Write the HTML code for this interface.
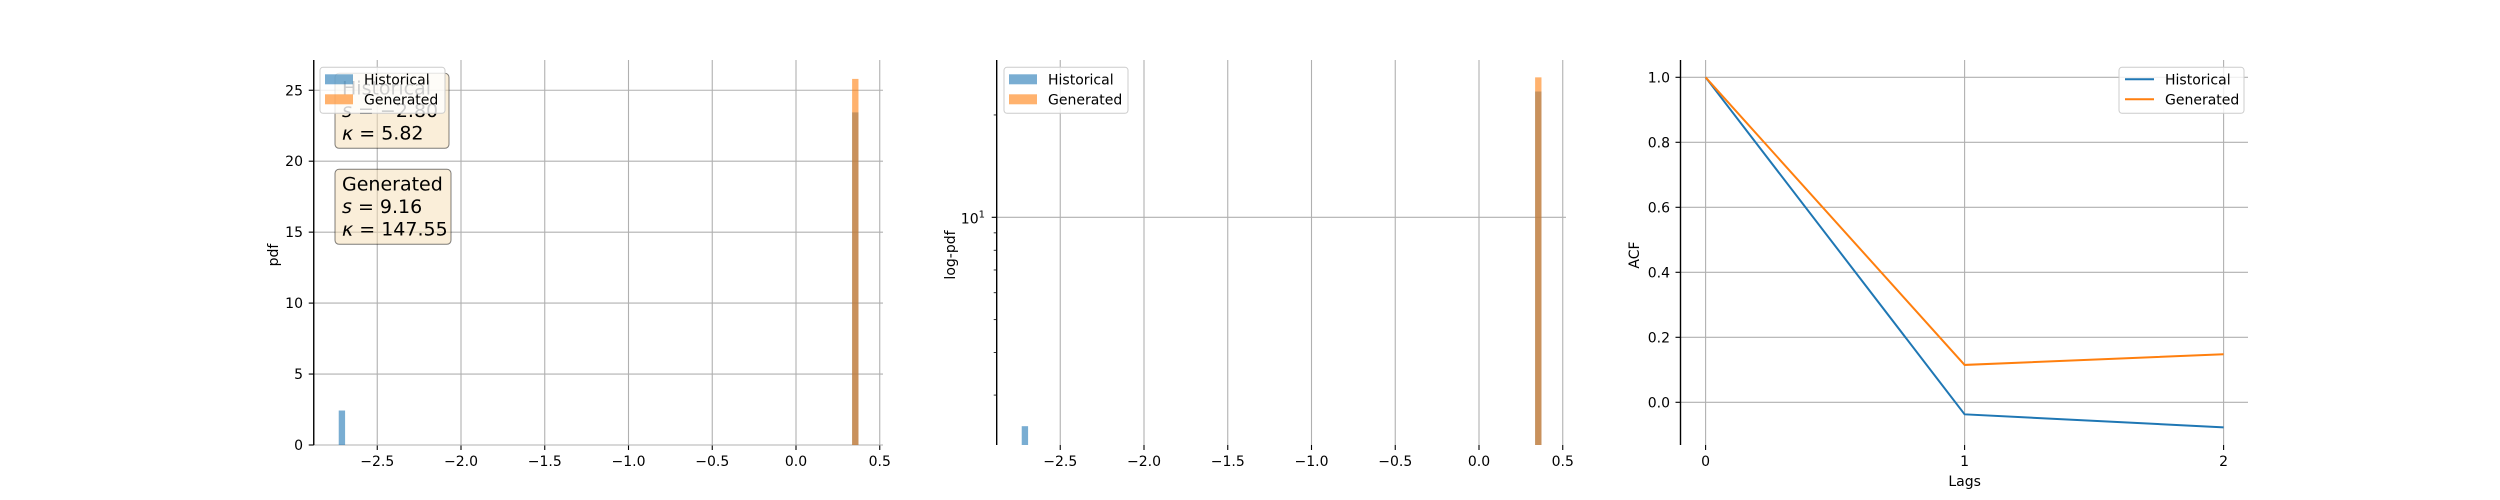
<!DOCTYPE html>
<html><head><meta charset="utf-8"><style>
html,body{margin:0;padding:0;background:#fff;}
svg{display:block;font-family:"DejaVu Sans","Liberation Sans",sans-serif;}
</style></head><body>
<svg id="fig" width="2500" height="500" viewBox="0 0 2500 500" xmlns="http://www.w3.org/2000/svg">
<g id="p1"></g>
<g id="p2"></g>
<g id="p3"></g>
</svg>
<script>
// ---- data ----
const histBinLeft = [-2.73, 0.335];
const histPdf = [2.43, 23.44];
const genBinLeft = [0.335];
const genPdf = [25.8];
const binWidth = 0.038;
const xTicks = [-2.5, -2.0, -1.5, -1.0, -0.5, 0.0, 0.5];
const xTickLabels = ["\u22122.5","\u22122.0","\u22121.5","\u22121.0","\u22120.5","0.0","0.5"];
const pdfTicks = [0, 5, 10, 15, 20, 25];
const logMinorTicks = [3,4,5,6,7,8,9,20];
const lags = [0, 1, 2];
const acfHist = [1.0, -0.037, -0.077];
const acfGen = [1.0, 0.115, 0.148];
const acfTicks = [0.0, 0.2, 0.4, 0.6, 0.8, 1.0];
const histStats = [["Historical"], ["s", " = \u22122.80"], ["\u03ba", " = 5.82"]];
const genStats = [["Generated"], ["s", " = 9.16"], ["\u03ba", " = 147.55"]];

const NS = "http://www.w3.org/2000/svg";
const BLUE = "#1f77b4", ORANGE = "#ff7f0e", GRID = "#b0b0b0";
function el(tag, attrs, parent, text) {
  const e = document.createElementNS(NS, tag);
  for (const k in attrs) e.setAttribute(k, attrs[k]);
  if (text !== undefined) e.textContent = text;
  parent.appendChild(e);
  return e;
}
const TOP = 60, BOT = 445;

function xAxis(g, sx, ticks, labels, gridTop) {
  ticks.forEach((t, i) => {
    const x = sx(t);
    const gl = el("line", {x1:x, x2:x, y1:gridTop, y2:BOT, stroke:GRID, "stroke-width":1.1}, g);
    
    
    const tk = el("line", {x1:x, x2:x, y1:BOT, y2:BOT+5, stroke:"#000", "stroke-width":1.1}, g);
    
    
    const tl = el("text", {x:x, y:466, "font-size":14, "text-anchor":"middle", fill:"#000"}, g, labels[i]);
    
    
  });
}
function yGrid(g, y, x0, x1, label, lx) {
  const gl = el("line", {x1:x0, x2:x1, y1:y, y2:y, stroke:GRID, "stroke-width":1.1}, g);
  
  
  const tk = el("line", {x1:x0-5, x2:x0, y1:y, y2:y, stroke:"#000", "stroke-width":1.1}, g);
  
  
  if (label !== null) {
    const tl = el("text", {x:lx, y:y+5, "font-size":14, "text-anchor":"end", fill:"#000"}, g, label);
    
    
  }
}
function spine(g, x) {
  const s = el("line", {x1:x, x2:x, y1:TOP, y2:BOT, stroke:"#000", "stroke-width":1.4}, g);
  
  
}
function yTitle(g, x, text) {
  const t = el("text", {x:x, y:255, "font-size":14, "text-anchor":"middle", transform:"rotate(-90 "+x+" 255)", fill:"#000"}, g, text);
  
  
}
function bars(g, lefts, vals, sx, sy, color, name) {
  lefts.forEach((l, i) => {
    const x0 = sx(l), x1 = sx(l + binWidth), y = sy(vals[i]);
    const r = el("rect", {x:x0, y:y, width:x1-x0, height:BOT-y, fill:color, "fill-opacity":0.6}, g);
    
    
  });
}
function legend(g, x, y, w, kind) {
  const lg = el("g", {}, g);
  
  
  el("rect", {x:x, y:y, width:w, height:46, rx:3, fill:"#fff", "fill-opacity":0.8, stroke:"#ccc", "stroke-width":1}, lg);
  [["Historical", BLUE, 12], ["Generated", ORANGE, 32]].forEach(([name, c, dy]) => {
    const ent = el("g", {}, lg);
    
    
    if (kind === "patch") el("rect", {x:x+5, y:y+dy-5, width:28, height:10, fill:c, "fill-opacity":0.6}, ent);
    else el("line", {x1:x+6, x2:x+35, y1:y+dy, y2:y+dy, stroke:c, "stroke-width":2}, ent);
    el("text", {x:x+(kind==="patch"?44:46), y:y+dy+5, "font-size":14, fill:"#000"}, ent, name);
  });
}
function statBox(g, x, y, w, lines, name) {
  const b = el("g", {}, g);
  
  
  el("rect", {x:x, y:y, width:w, height:75, rx:4, fill:"#f5deb3", "fill-opacity":0.5, stroke:"#000", "stroke-opacity":0.5, "stroke-width":1}, b);
  lines.forEach((parts, i) => {
    const t = el("text", {x:x+7, y:y+21+i*22.5, "font-size":19, fill:"#000"}, b);
    if (parts.length === 1) t.textContent = parts[0];
    else {
      el("tspan", {"font-style":"italic"}, t, parts[0]);
      el("tspan", {}, t, parts[1]);
    }
  });
}

// ---- panel 1 (pdf) ----
(function(){
  const g = document.getElementById("p1");
  const X0 = 313.75, X1 = 883;
  const sx = v => 796 + v * 167.5;
  const sy = v => 445 - v * 14.19;
  xAxis(g, sx, xTicks, xTickLabels, TOP);
  pdfTicks.forEach(t => yGrid(g, sy(t), X0, X1, String(t), 303));
  bars(g, histBinLeft, histPdf, sx, sy, BLUE, "historical-bar");
  bars(g, genBinLeft, genPdf, sx, sy, ORANGE, "generated-bar");
  spine(g, X0);
  yTitle(g, 278, "pdf");
  statBox(g, 335, 73.3, 114, histStats, "historical-stats-box");
  statBox(g, 335, 169.3, 116, genStats, "generated-stats-box");
  legend(g, 320, 67.3, 125, "patch");
})();

// ---- panel 2 (log-pdf) ----
(function(){
  const g = document.getElementById("p2");
  const X0 = 996.7, X1 = 1566;
  const sx = v => 1479 + v * 167.5;
  const sy = v => 217.3 - (Math.log10(v) - 1) * 340;
  xAxis(g, sx, xTicks, xTickLabels, TOP);
  yGrid(g, sy(10), X0, X1, null, 0);
  const tl = el("text", {x:985, y:sy(10)+6, "font-size":14, "text-anchor":"end", fill:"#000"}, g);
  
  
  tl.innerHTML = '10<tspan dy="-6" font-size="10">1</tspan>';
  logMinorTicks.forEach(t => {
    const m = el("line", {x1:X0-3, x2:X0, y1:sy(t), y2:sy(t), stroke:"#000", "stroke-width":0.8}, g);
    
    
  });
  bars(g, histBinLeft, histPdf, sx, sy, BLUE, "historical-bar");
  bars(g, genBinLeft, genPdf, sx, sy, ORANGE, "generated-bar");
  spine(g, X0);
  yTitle(g, 955, "log-pdf");
  legend(g, 1004, 67.3, 124, "patch");
})();

// ---- panel 3 (ACF) ----
(function(){
  const g = document.getElementById("p3");
  const X0 = 1680.5, X1 = 2248;
  const sx = v => 1705.6 + v * 259;
  const sy = v => 402.3 - v * 325;
  xAxis(g, sx, lags, lags.map(String), TOP);
  acfTicks.forEach(t => yGrid(g, sy(t), X0, X1, t.toFixed(1), 1670));
  [[acfHist, BLUE, "historical-acf-line"], [acfGen, ORANGE, "generated-acf-line"]].forEach(([vals, c, name]) => {
    const p = el("polyline", {points: vals.map((v, i) => sx(lags[i]) + "," + sy(v)).join(" "), fill:"none", stroke:c, "stroke-width":2}, g);
    
    
  });
  spine(g, X0);
  yTitle(g, 1639, "ACF");
  const xt = el("text", {x:sx(1), y:486, "font-size":14, "text-anchor":"middle", fill:"#000"}, g, "Lags");
  
  
  legend(g, 2119, 67.3, 125, "line");
})();
</script>
</body></html>
